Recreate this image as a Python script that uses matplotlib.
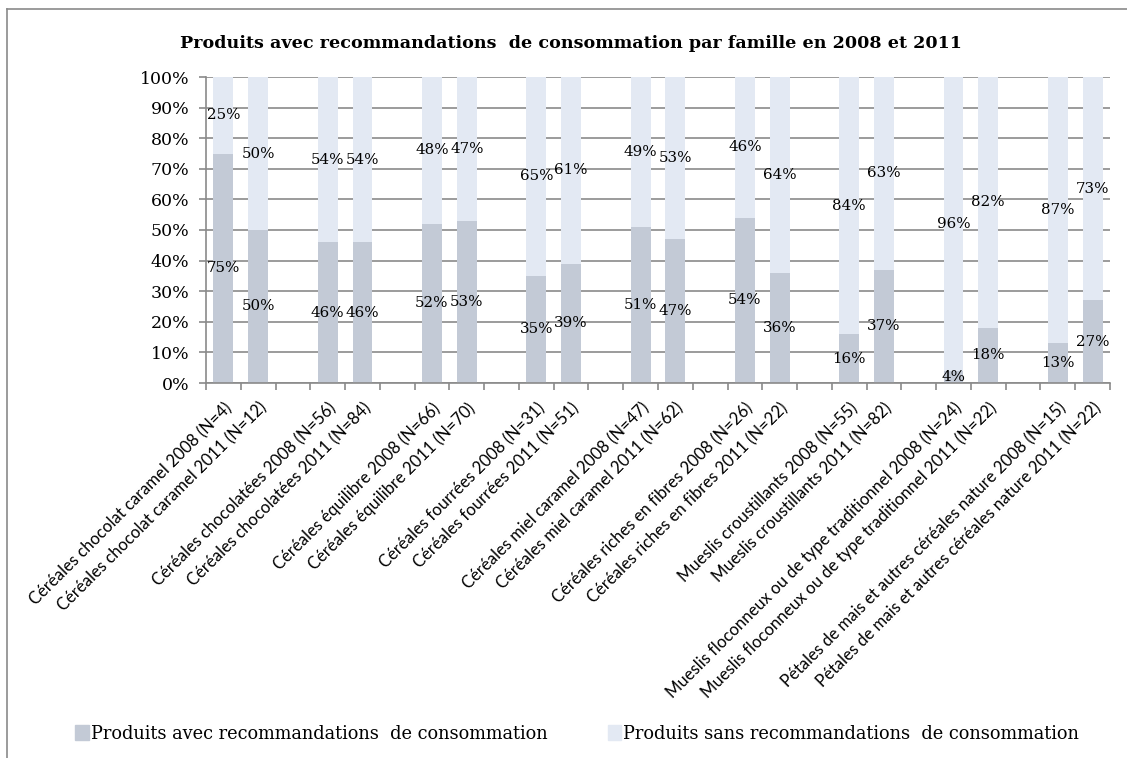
# recommandations de consommation, 2008 vs 2011, barres empilees a 100%

import matplotlib.pyplot as plt
from matplotlib.lines import Line2D
from matplotlib.patches import Patch

familles = [
    "Céréales chocolat caramel",
    "Céréales chocolatées",
    "Céréales équilibre",
    "Céréales fourrées",
    "Céréales miel caramel",
    "Céréales riches en fibres",
    "Mueslis croustillants",
    "Mueslis floconneux ou de type traditionnel",
    "Pétales de mais et autres céréales nature",
]
annees = ["2008", "2011"]
effectifs = [
    [4, 12], [56, 84], [66, 70], [31, 51], [47, 62],
    [26, 22], [55, 82], [24, 22], [15, 22],
]
avec = [75, 50, 46, 46, 52, 53, 35, 39, 51, 47, 54, 36, 16, 37, 4, 18, 13, 27]
sans = [25, 50, 54, 54, 48, 47, 65, 61, 49, 53, 46, 64, 84, 63, 96, 82, 87, 73]

c_avec = "#c3cad6"
c_sans = "#e3e9f3"
grid_c = "#8a8a8a"
plt.rcParams['font.family'] = ['DejaVu Serif']

# two bars per family, then one empty slot
pos = []
labels = []
for i, fam in enumerate(familles):
    for j, an in enumerate(annees):
        pos.append(i * 3 + j)
        labels.append("%s %s (N=%d)" % (fam, an, effectifs[i][j]))
n_slots = len(familles) * 3 - 1

fig = plt.figure(figsize=(11.27, 7.58), dpi=100)
ax = fig.add_axes([206 / 1127, 1 - 383 / 758, (1110 - 206) / 1127, (383 - 77) / 758])

ax.bar(pos, avec, width=0.57, color=c_avec, zorder=2)
ax.bar(pos, sans, width=0.57, bottom=avec, color=c_sans, zorder=2)

for x, a, s in zip(pos, avec, sans):
    ax.text(x, a / 2, "%d%%" % a, ha='center', va='center', fontsize=10.8, zorder=3)
    ax.text(x, a + s / 2, "%d%%" % s, ha='center', va='center', fontsize=10.8, zorder=3)

ax.set_xlim(-0.5, n_slots - 0.5)
ax.set_ylim(0, 100)
ax.set_yticks(range(0, 101, 10))
ax.set_yticklabels(["%d%%" % v for v in range(0, 101, 10)], fontsize=12.5)
ax.yaxis.grid(True, color=grid_c, linewidth=1.2, zorder=1)
ax.set_axisbelow(True)

ax.set_xticks(pos)
ax.set_xticklabels(labels, rotation=45, ha='right', rotation_mode='anchor',
                   fontsize=12, family=['Lato', 'DejaVu Sans'])
ax.tick_params(axis='x', which='major', length=0, pad=12)
ax.set_xticks([k - 0.5 for k in range(n_slots + 1)], minor=True)
ax.tick_params(axis='x', which='minor', length=5, color=grid_c, width=1.2)
ax.tick_params(axis='y', length=5, color=grid_c, width=1.2, pad=7)

for side in ['top', 'right']:
    ax.spines[side].set_visible(False)
for side in ['left', 'bottom']:
    ax.spines[side].set_color(grid_c)
    ax.spines[side].set_linewidth(1.2)

fig.text(0.507, 1 - 44 / 758, "Produits avec recommandations  de consommation par famille en 2008 et 2011",
         ha='center', va='center', fontsize=12.6, fontweight='bold')

handles = [Patch(color=c_avec), Patch(color=c_sans)]
fig.legend(handles, ["Produits avec recommandations  de consommation",
                     "Produits sans recommandations  de consommation"],
           loc='center', bbox_to_anchor=(0.512, 1 - 734 / 758), ncol=2, frameon=False,
           fontsize=12.8, handlelength=0.75, handleheight=0.9, handletextpad=0.1, columnspacing=3.4)

# chart frame (only left and top edges are visible in the picture)
fig.add_artist(Line2D([7 / 1127, 7 / 1127], [0, 1 - 9 / 758], transform=fig.transFigure, color='#8a8a8a', lw=1.2))
fig.add_artist(Line2D([7 / 1127, 1], [1 - 9 / 758, 1 - 9 / 758], transform=fig.transFigure, color='#8a8a8a', lw=1.2))

fig.savefig("out.png", dpi=100)
